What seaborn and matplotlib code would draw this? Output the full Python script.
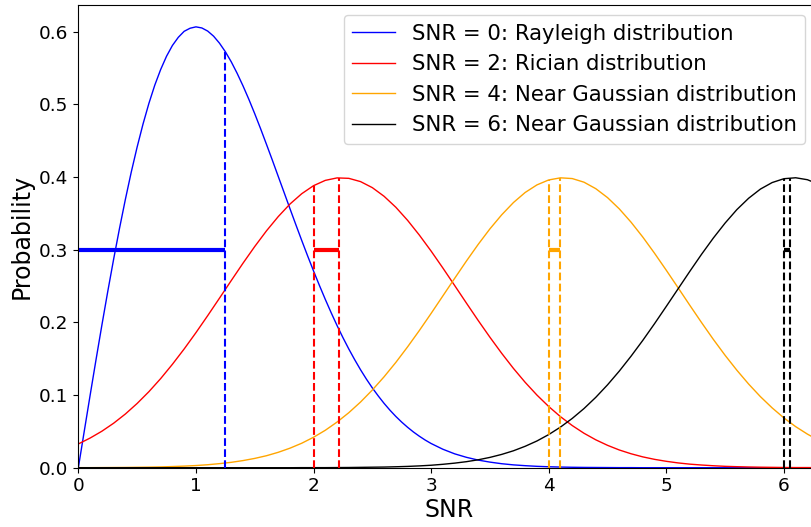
import numpy as np
import pandas as pd
import matplotlib
matplotlib.use('Agg')
import matplotlib.pyplot as plt
import seaborn as sns

# SNR grid the Gaussian-like curves were read on
snr_axis = [0.0, 0.1, 0.2, 0.3, 0.4, 0.5, 0.6, 0.7, 0.8, 0.9,
            1.0, 1.1, 1.2, 1.3, 1.4, 1.5, 1.6, 1.7, 1.8, 1.9,
            2.0, 2.1, 2.2, 2.3, 2.4, 2.5, 2.6, 2.7, 2.8, 2.9,
            3.0, 3.1, 3.2, 3.3, 3.4, 3.5, 3.6, 3.7, 3.8, 3.9,
            4.0, 4.1, 4.2, 4.3, 4.4, 4.5, 4.6, 4.7, 4.8, 4.9,
            5.0, 5.1, 5.2, 5.3, 5.4, 5.5, 5.6, 5.7, 5.8, 5.9,
            6.0, 6.1, 6.2, 6.3, 6.4, 6.5]

# Rayleigh curve is read on a finer grid around its sharp peak
rayleigh_axis = [0.0, 0.05, 0.1, 0.15, 0.2, 0.25, 0.3, 0.35, 0.4, 0.45,
                 0.5, 0.55, 0.6, 0.65, 0.7, 0.75, 0.8, 0.85, 0.9, 0.95,
                 1.0, 1.05, 1.1, 1.15, 1.2, 1.25, 1.3, 1.35, 1.4, 1.45,
                 1.5, 1.55, 1.6, 1.65, 1.7, 1.75, 1.8, 1.85, 1.9, 1.95,
                 2.0, 2.05, 2.1, 2.15, 2.2, 2.25, 2.3, 2.35, 2.4, 2.45,
                 2.5, 2.55, 2.6, 2.65, 2.7, 2.75, 2.8, 2.85, 2.9, 2.95,
                 3.0, 3.1, 3.2, 3.3, 3.4, 3.5, 3.6, 3.7, 3.8, 3.9,
                 4.0, 4.1, 4.2, 4.3, 4.4, 4.5, 4.6, 4.7, 4.8, 4.9,
                 5.0, 5.5, 6.0, 6.5]

p_snr0 = [0.0, 0.0499, 0.0995, 0.1483, 0.1960, 0.2423, 0.2868, 0.3292, 0.3692, 0.4067,
          0.4412, 0.4728, 0.5012, 0.5263, 0.5478, 0.5661, 0.5809, 0.5921, 0.6004, 0.6046,
          0.6065, 0.6050, 0.6007, 0.5937, 0.5841, 0.5723, 0.5585, 0.5427, 0.5254, 0.5068,
          0.4870, 0.4663, 0.4448, 0.4230, 0.4007, 0.3785, 0.3562, 0.3342, 0.3125, 0.2913,
          0.2707, 0.2508, 0.2316, 0.2132, 0.1956, 0.1790, 0.1633, 0.1486, 0.1347, 0.1218,
          0.1098, 0.0988, 0.0885, 0.0791, 0.0705, 0.0627, 0.0556, 0.0491, 0.0433, 0.0380,
          0.0333, 0.0254, 0.0191, 0.0143, 0.0105, 0.0077, 0.0055, 0.0039, 0.0028, 0.0019,
          0.0013, 0.0009, 0.0006, 0.0004, 0.0003, 0.0002, 0.0001, 0.0001, 0.0, 0.0,
          0.0, 0.0, 0.0, 0.0]

p_snr2 = [0.0327, 0.0408, 0.0502, 0.0612, 0.0739, 0.0884, 0.1046, 0.1226, 0.1423, 0.1634,
          0.1858, 0.2092, 0.2332, 0.2574, 0.2813, 0.3043, 0.3259, 0.3455, 0.3628, 0.3770,
          0.3880, 0.3953, 0.3987, 0.3981, 0.3936, 0.3853, 0.3734, 0.3583, 0.3403, 0.3200,
          0.2980, 0.2747, 0.2507, 0.2265, 0.2026, 0.1795, 0.1574, 0.1366, 0.1174, 0.0999,
          0.0842, 0.0702, 0.0580, 0.0474, 0.0384, 0.0308, 0.0244, 0.0192, 0.0149, 0.0115,
          0.0088, 0.0066, 0.0049, 0.0037, 0.0027, 0.0019, 0.0014, 0.0010, 0.0007, 0.0005,
          0.0003, 0.0002, 0.0002, 0.0001, 0.0001, 0.0000]

p_snr4 = [0.0001, 0.0001, 0.0002, 0.0003, 0.0004, 0.0006, 0.0008, 0.0011, 0.0016, 0.0022,
          0.0030, 0.0041, 0.0056, 0.0074, 0.0098, 0.0128, 0.0165, 0.0212, 0.0269, 0.0337,
          0.0419, 0.0515, 0.0628, 0.0757, 0.0904, 0.1069, 0.1251, 0.1449, 0.1663, 0.1888,
          0.2123, 0.2364, 0.2605, 0.2843, 0.3072, 0.3286, 0.3479, 0.3648, 0.3787, 0.3891,
          0.3959, 0.3988, 0.3978, 0.3928, 0.3839, 0.3716, 0.3561, 0.3378, 0.3173, 0.2950,
          0.2716, 0.2476, 0.2234, 0.1996, 0.1765, 0.1546, 0.1341, 0.1151, 0.0978, 0.0823,
          0.0685, 0.0565, 0.0462, 0.0373, 0.0299, 0.0237]

p_snr6 = [0.0, 0.0, 0.0, 0.0, 0.0, 0.0, 0.0, 0.0, 0.0, 0.0,
          0.0, 0.0, 0.0, 0.0, 0.0, 0.0, 0.0, 0.0, 0.0, 0.0001,
          0.0001, 0.0001, 0.0002, 0.0003, 0.0005, 0.0007, 0.0009, 0.0013, 0.0018, 0.0025,
          0.0034, 0.0047, 0.0063, 0.0083, 0.0109, 0.0142, 0.0183, 0.0233, 0.0295, 0.0368,
          0.0456, 0.0559, 0.0678, 0.0814, 0.0968, 0.1140, 0.1329, 0.1534, 0.1752, 0.1982,
          0.2220, 0.2461, 0.2702, 0.2937, 0.3160, 0.3366, 0.3551, 0.3707, 0.3833, 0.3923,
          0.3976, 0.3989, 0.3962, 0.3896, 0.3794, 0.3657]

labels = ['SNR = 0: Rayleigh distribution',
          'SNR = 2: Rician distribution',
          'SNR = 4: Near Gaussian distribution',
          'SNR = 6: Near Gaussian distribution']
colors = ['blue', 'red', 'orange', 'black']

# true SNR, measured mean SNR and curve heights at both
true_snr = [0.0, 2.0, 4.0, 6.0]
mean_snr = [1.25, 2.22, 4.10, 6.05]
height_true = [0.0, 0.3880, 0.3959, 0.3976]
height_mean = [0.5723, 0.3987, 0.3988, 0.3985]
bias_level = 0.3

# long-format table for seaborn
axes_list = [rayleigh_axis, snr_axis, snr_axis, snr_axis]
curves = [p_snr0, p_snr2, p_snr4, p_snr6]
df = pd.concat([pd.DataFrame({'SNR': xs, 'Probability': c, 'label': lab})
                for xs, c, lab in zip(axes_list, curves, labels)], ignore_index=True)

fig = plt.figure(figsize=(8.11, 5.27), dpi=100)
ax = fig.add_axes([0.0966, 0.1125, 0.9135, 0.8786])

sns.lineplot(data=df, x='SNR', y='Probability', hue='label', hue_order=labels,
             palette=dict(zip(labels, colors)), linewidth=1, ax=ax, legend=False)

for s, m, ht, hm, c in zip(true_snr, mean_snr, height_true, height_mean, colors):
    if ht > 0:
        ax.vlines(s, 0, ht, colors=c, linestyles='--', linewidth=1.5)
    ax.vlines(m, 0, hm, colors=c, linestyles='--', linewidth=1.5)
    ax.hlines(bias_level, s, m, colors=c, linewidth=3)

ax.set_xlim(0, 6.3)
ax.set_ylim(0, 0.637)
ax.set_xticks([0, 1, 2, 3, 4, 5, 6])
ax.set_yticks([0.0, 0.1, 0.2, 0.3, 0.4, 0.5, 0.6])
ax.tick_params(labelsize=13.3)
ax.set_xlabel('SNR', fontsize=17, labelpad=2)
ax.set_ylabel('Probability', fontsize=17)

handles = [plt.Line2D([], [], color=c, linewidth=1) for c in colors]
ax.legend(handles, labels, loc='upper right', fontsize=15.3,
          bbox_to_anchor=(805 / 811, (527 - 15) / 527),
          bbox_transform=fig.transFigure, borderaxespad=0)

fig.savefig('out.png', dpi=100)
